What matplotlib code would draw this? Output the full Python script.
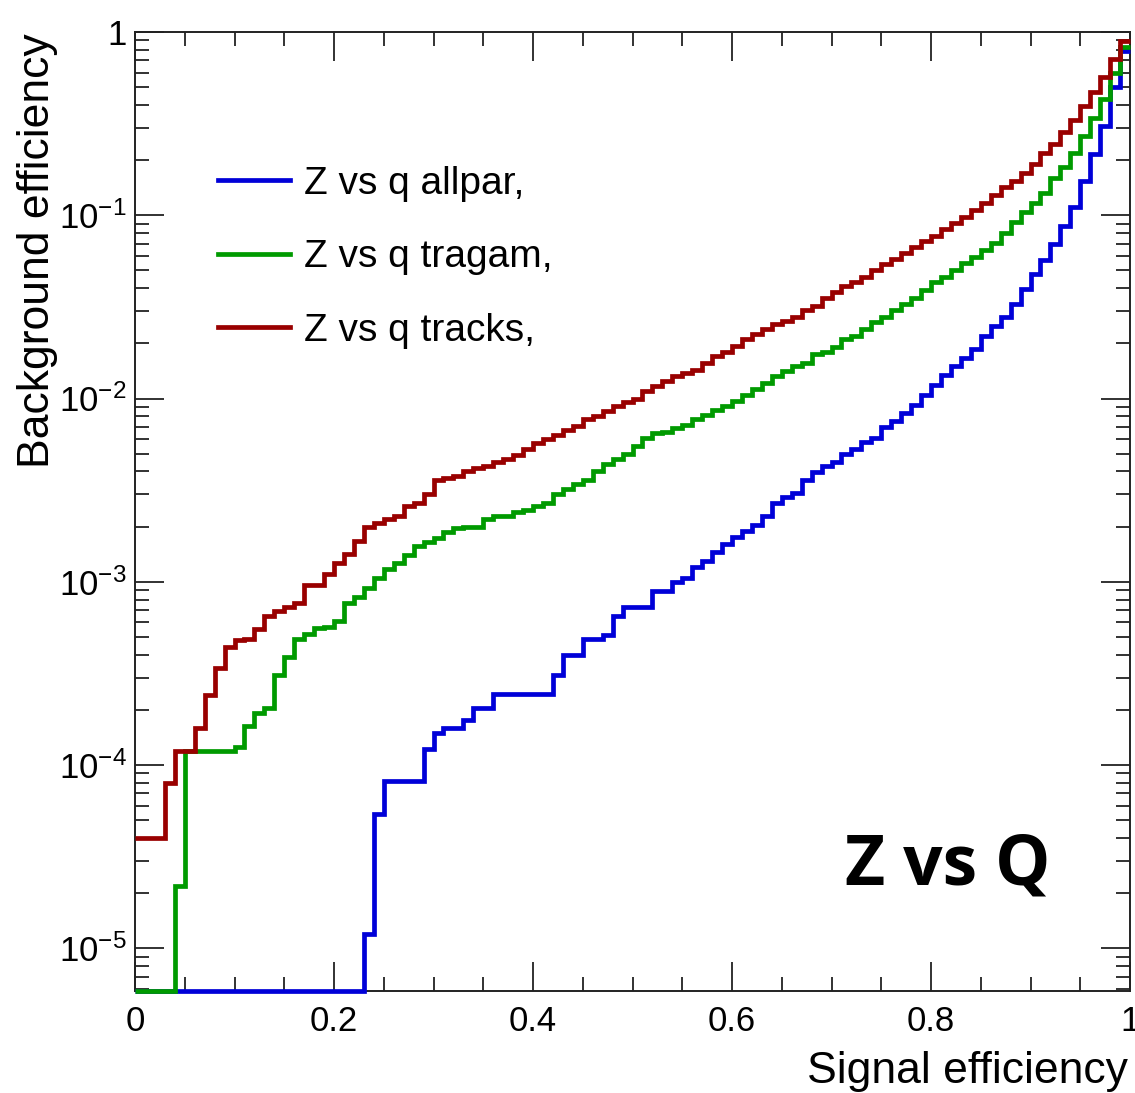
import numpy as np
import matplotlib
matplotlib.use("Agg")
import matplotlib.pyplot as plt
from matplotlib.ticker import LogLocator, MultipleLocator, NullFormatter, FixedLocator, FixedFormatter

# ROC curves (background efficiency per signal-efficiency bin, 100 bins from 0 to 1)
# 0 means empty bin: drawn on the lower edge of the plot, as ROOT does
allpar = [
    0, 0, 0, 0, 0, 0, 0, 0, 0, 0,
    0, 0, 0, 0, 0, 0, 0, 0, 0, 0,
    0, 0, 0, 1.19e-5, 5.4e-5, 8.2e-5, 8.2e-5, 8.2e-5, 8.2e-5, 1.22e-4,
    1.5e-4, 1.6e-4, 1.6e-4, 1.77e-4, 2.05e-4, 2.05e-4, 2.45e-4, 2.45e-4, 2.45e-4, 2.45e-4,
    2.45e-4, 2.45e-4, 3.1e-4, 4.0e-4, 4.0e-4, 4.9e-4, 4.9e-4, 5.1e-4, 6.5e-4, 7.3e-4,
    7.3e-4, 7.3e-4, 8.9e-4, 8.9e-4, 1.0e-3, 1.05e-3, 1.2e-3, 1.3e-3, 1.45e-3, 1.6e-3,
    1.75e-3, 1.9e-3, 2.05e-3, 2.3e-3, 2.7e-3, 2.9e-3, 3.05e-3, 3.6e-3, 3.95e-3, 4.3e-3,
    4.5e-3, 5.0e-3, 5.3e-3, 5.8e-3, 6.1e-3, 7.0e-3, 7.5e-3, 8.3e-3, 9.2e-3, 1.05e-2,
    1.18e-2, 1.34e-2, 1.5e-2, 1.66e-2, 1.87e-2, 2.2e-2, 2.5e-2, 2.8e-2, 3.3e-2, 3.95e-2,
    4.8e-2, 5.7e-2, 7.0e-2, 8.7e-2, 0.111, 0.153, 0.216, 0.307, 0.5, 0.79,
]
tragam = [
    0, 0, 0, 0, 2.2e-5, 1.2e-4, 1.2e-4, 1.2e-4, 1.2e-4, 1.2e-4,
    1.25e-4, 1.63e-4, 1.92e-4, 2.06e-4, 3.1e-4, 3.9e-4, 4.9e-4, 5.2e-4, 5.6e-4, 5.7e-4,
    6.1e-4, 7.7e-4, 8.3e-4, 9.2e-4, 1.05e-3, 1.17e-3, 1.27e-3, 1.4e-3, 1.56e-3, 1.65e-3,
    1.74e-3, 1.86e-3, 1.96e-3, 1.98e-3, 2.0e-3, 2.2e-3, 2.3e-3, 2.3e-3, 2.4e-3, 2.45e-3,
    2.6e-3, 2.7e-3, 3.0e-3, 3.2e-3, 3.4e-3, 3.6e-3, 4.0e-3, 4.4e-3, 4.7e-3, 5.0e-3,
    5.5e-3, 6.1e-3, 6.5e-3, 6.6e-3, 6.9e-3, 7.2e-3, 7.7e-3, 8.1e-3, 8.7e-3, 9.1e-3,
    9.7e-3, 1.05e-2, 1.13e-2, 1.22e-2, 1.32e-2, 1.41e-2, 1.5e-2, 1.57e-2, 1.74e-2, 1.8e-2,
    1.9e-2, 2.1e-2, 2.2e-2, 2.4e-2, 2.6e-2, 2.8e-2, 3.05e-2, 3.3e-2, 3.55e-2, 3.9e-2,
    4.3e-2, 4.6e-2, 5.0e-2, 5.5e-2, 5.9e-2, 6.5e-2, 7.1e-2, 8.0e-2, 9.2e-2, 0.104,
    0.117, 0.133, 0.16, 0.184, 0.219, 0.271, 0.34, 0.43, 0.6, 0.83,
]
tracks = [
    4.0e-5, 4.0e-5, 4.0e-5, 8.0e-5, 1.2e-4, 1.2e-4, 1.6e-4, 2.4e-4, 3.4e-4, 4.4e-4,
    4.8e-4, 4.9e-4, 5.5e-4, 6.5e-4, 6.9e-4, 7.3e-4, 7.7e-4, 9.6e-4, 9.6e-4, 1.1e-3,
    1.26e-3, 1.41e-3, 1.67e-3, 2.0e-3, 2.1e-3, 2.2e-3, 2.3e-3, 2.6e-3, 2.7e-3, 3.0e-3,
    3.6e-3, 3.7e-3, 3.8e-3, 4.0e-3, 4.2e-3, 4.3e-3, 4.5e-3, 4.7e-3, 4.9e-3, 5.3e-3,
    5.7e-3, 6.0e-3, 6.3e-3, 6.7e-3, 7.1e-3, 7.7e-3, 8.0e-3, 8.5e-3, 9.1e-3, 9.6e-3,
    1.0e-2, 1.1e-2, 1.17e-2, 1.25e-2, 1.33e-2, 1.37e-2, 1.43e-2, 1.56e-2, 1.7e-2, 1.8e-2,
    1.94e-2, 2.1e-2, 2.24e-2, 2.4e-2, 2.54e-2, 2.65e-2, 2.8e-2, 3.05e-2, 3.2e-2, 3.55e-2,
    3.8e-2, 4.1e-2, 4.3e-2, 4.6e-2, 5.0e-2, 5.4e-2, 5.75e-2, 6.2e-2, 6.7e-2, 7.2e-2,
    7.7e-2, 8.4e-2, 9.1e-2, 9.8e-2, 0.107, 0.117, 0.129, 0.143, 0.153, 0.171,
    0.19, 0.219, 0.245, 0.285, 0.331, 0.395, 0.471, 0.568, 0.71, 0.89,
]
labels = ["Z vs q allpar,", "Z vs q tragam,", "Z vs q tracks,"]
colors = ["#0000d8", "#009a00", "#990000"]

x_ticks = [0, 0.2, 0.4, 0.6, 0.8, 1]
x_tick_labels = ["0", "0.2", "0.4", "0.6", "0.8", "1"]
y_ticks = [1e-5, 1e-4, 1e-3, 1e-2, 1e-1, 1]
y_tick_labels = [r"$\mathregular{10^{-5}}$", r"$\mathregular{10^{-4}}$",
                 r"$\mathregular{10^{-3}}$", r"$\mathregular{10^{-2}}$",
                 r"$\mathregular{10^{-1}}$", "1"]
Y_MIN = 5.85e-6
Y_MAX = 1.0


def create_plot(output_path):
    """Draw the three ROC histograms ROOT-style and save the figure."""
    plt.rcParams['font.family'] = ['Liberation Sans', 'DejaVu Sans']
    plt.rcParams['mathtext.default'] = 'regular'

    W, H = 1135, 1093
    fig = plt.figure(figsize=(W / 100, H / 100), dpi=100)
    ax = fig.add_axes([135 / W, 1 - 991 / H, 995 / W, 959 / H])

    for values, label, color in zip([allpar, tragam, tracks], labels, colors):
        vals = np.asarray(values, dtype=float)
        vals = np.where(vals > 0, vals, Y_MIN)  # empty bins sit on the floor
        edges = np.linspace(0, 1, len(vals) + 1)
        ax.stairs(vals, edges, baseline=None, color=color, linewidth=3.4,
                  label=label, clip_on=False, zorder=3)

    ax.set_yscale('log')
    ax.set_xlim(0, 1)
    ax.set_ylim(Y_MIN, Y_MAX)

    # ticks on all four sides, pointing inwards
    ax.xaxis.set_major_locator(FixedLocator(x_ticks))
    ax.xaxis.set_major_formatter(FixedFormatter(x_tick_labels))
    ax.xaxis.set_minor_locator(MultipleLocator(0.05))
    ax.yaxis.set_major_locator(FixedLocator(y_ticks))
    ax.yaxis.set_major_formatter(FixedFormatter(y_tick_labels))
    ax.yaxis.set_minor_locator(LogLocator(base=10, subs=range(2, 10), numticks=20))
    ax.yaxis.set_minor_formatter(NullFormatter())
    ax.tick_params(which='both', direction='in', top=True, right=True,
                   width=1.3, colors='#222222', labelcolor='black', labelsize=25)
    ax.tick_params(which='major', length=21)
    ax.tick_params(which='minor', length=10)
    ax.tick_params(axis='x', pad=10)
    ax.tick_params(axis='y', pad=6)
    for spine in ax.spines.values():
        spine.set_linewidth(1.4)
        spine.set_color('#222222')

    fig.text(38 / W, 1 - 33 / H, "Background efficiency", rotation=90,
             ha='center', va='top', fontsize=32)
    fig.text(1128 / W, 1 - 1071 / H, "Signal efficiency",
             ha='right', va='center', fontsize=32)

    ax.legend(loc='upper left', bbox_to_anchor=(218 / W, 1 - 166 / H),
              bbox_transform=fig.transFigure, frameon=False, fontsize=28,
              handlelength=1.85, handletextpad=0.35, labelspacing=0.96,
              borderpad=0, borderaxespad=0)

    fig.text(845 / W, 1 - 885 / H, "Z vs Q", family='Open Sans',
             fontweight='bold', fontsize=50, ha='left', va='baseline')

    fig.savefig(output_path, dpi=100)


def main():
    create_plot("out.png")


if __name__ == "__main__":
    main()
